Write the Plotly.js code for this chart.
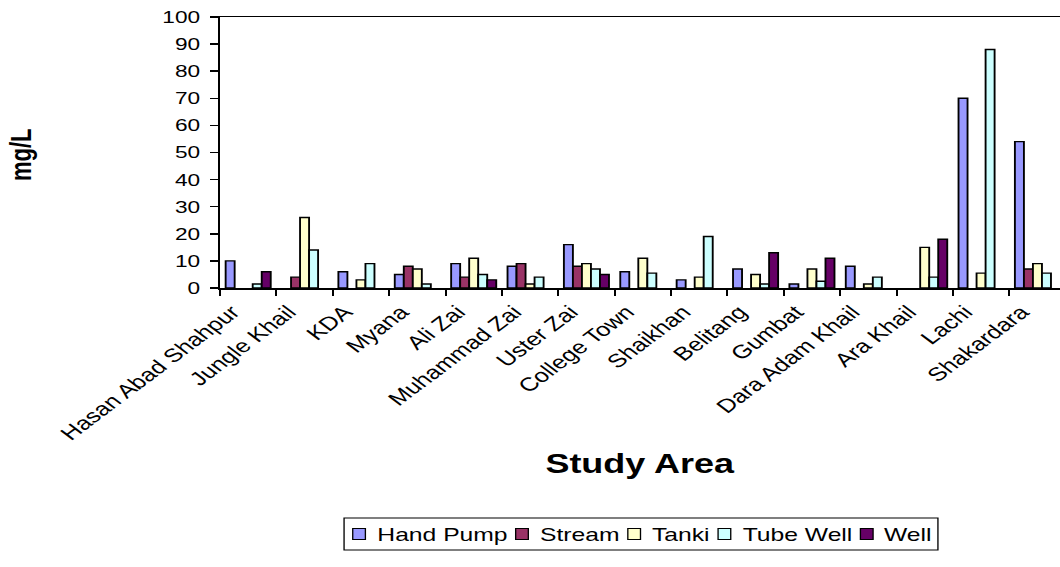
<!DOCTYPE html>
<html>
<head>
<meta charset="utf-8">
<script src="https://cdn.plot.ly/plotly-3.0.1.min.js"></script>
<style>
html,body{margin:0;padding:0;background:#fff;overflow:hidden;}
#wrap{width:1060px;height:567px;overflow:hidden;position:relative;}
#chart{width:795px;height:567px;transform:scaleX(1.333333);transform-origin:0 0;}
</style>
</head>
<body>
<div id="wrap"><div id="chart"></div></div>
<script>
const categories = ["Hasan Abad Shahpur","Jungle Khail","KDA","Myana","Ali Zai","Muhammad Zai","Uster Zai","College Town","Shaikhan","Belitang","Gumbat","Dara Adam Khail","Ara Khail","Lachi","Shakardara"];
const handPump = [10, null, 6, 5, 9, 8, 16, 6, 3, 7, 1.5, 8, null, 70, 54];
const stream   = [null, 4, null, 8, 4, 9, 8, null, null, null, null, null, null, null, 7];
const tanki    = [null, 26, 3, 7, 11, 1.5, 9, 11, 4, 5, 7, 1.5, 15, 5.5, 9];
const tubeWell = [1.5, 14, 9, 1.5, 5, 4, 7, 5.5, 19, 1.5, 2.5, 4, 4, 88, 5.5];
const well     = [6, null, null, null, 3, null, 5, null, null, 13, 11, null, 18, null, null];

const seriesNames = ["Hand Pump","Stream","Tanki","Tube Well","Well"];
const seriesData = [handPump, stream, tanki, tubeWell, well];
const colors = ["#9999FF","#993366","#FFFFCC","#CCFFFF","#660066"];
const yTicks = [0,10,20,30,40,50,60,70,80,90,100];

const font = "Liberation Sans, Arial, sans-serif";
const W = 795, H = 567;
const mL = 165, mT = 17, mB = 279, mR = 0;
const pw = W - mL - mR, ph = H - mT - mB;
const px2x = X => (X - mL) / pw;
const px2y = Y => (H - mB - Y) / ph;

const traces = seriesNames.map((n, i) => ({
  type: "bar", name: n, x: categories, y: seriesData[i],
  marker: {color: colors[i], line: {color: "#000", width: 1.4}},
  hoverinfo: "x+y+name", showlegend: false
}));

// custom legend built from seriesNames / colors
const legFont = 18.5;
const cv = document.createElement("canvas").getContext("2d");
cv.font = legFont + "px 'Liberation Sans'";
const tw = seriesNames.map(n => cv.measureText(n).width);
const pad = 6.5, sym = 9.5, symH = 11, gapST = 6.5, gapItem = 8.5;
const total = pad * 2 + tw.reduce((a, w) => a + sym + gapST + w, 0) + gapItem * (seriesNames.length - 1);
const legCX = 480.75, legTop = 518, legBot = 550, legCY = (legTop + legBot) / 2;
let cx = legCX - total / 2;
const shapes = [{type: "rect", xref: "paper", yref: "paper",
  x0: px2x(cx), x1: px2x(cx + total), y0: px2y(legBot), y1: px2y(legTop),
  line: {color: "#000", width: 1}, fillcolor: "rgba(0,0,0,0)"}];
const annotations = [];
cx += pad;
seriesNames.forEach((n, i) => {
  shapes.push({type: "rect", xref: "paper", yref: "paper",
    x0: px2x(cx), x1: px2x(cx + sym), y0: px2y(legCY + symH / 2), y1: px2y(legCY - symH / 2),
    line: {color: "#000", width: 1}, fillcolor: colors[i]});
  cx += sym + gapST;
  annotations.push({text: n, xref: "paper", yref: "paper", x: px2x(cx), y: px2y(legCY),
    xanchor: "left", yanchor: "middle", showarrow: false, font: {size: legFont, family: font, color: "#000"}});
  cx += tw[i] + gapItem;
});

annotations.push(
  {text: "<b>Study Area</b>", xref: "paper", yref: "paper", x: px2x(480), y: px2y(464),
   xanchor: "center", yanchor: "middle", showarrow: false, font: {size: 27, family: font}},
  {text: "<b>mg/L</b>", xref: "paper", yref: "paper", x: px2x(15), y: px2y(155),
   xanchor: "center", yanchor: "middle", showarrow: false, textangle: -90, font: {size: 22, family: font}}
);

const layout = {
  width: W, height: H,
  margin: {l: mL, r: mR, t: mT, b: mB},
  paper_bgcolor: "#fff", plot_bgcolor: "#fff",
  barmode: "group", bargap: 0.2, bargroupgap: 0,
  font: {family: font, color: "#000"},
  showlegend: false,
  xaxis: {
    type: "category", range: [-0.5, 14.4],
    tickangle: -45, tickfont: {size: 19, family: font},
    ticklabelshift: -12, ticklabelstandoff: 4,
    showline: true, linecolor: "#000", linewidth: 1.5, mirror: true,
    ticks: "outside", ticklen: 6, tickcolor: "#000", tickwidth: 1.5, tickson: "boundaries",
    showgrid: false, zeroline: false, automargin: false
  },
  yaxis: {
    range: [0, 100], tickvals: yTicks, ticktext: yTicks.map(String),
    tickfont: {size: 17, family: font},
    showline: true, linecolor: "#000", linewidth: 1.5,
    ticks: "outside", ticklen: 6, tickcolor: "#000", tickwidth: 1.5, ticklabelstandoff: 4,
    showgrid: false, zeroline: false, automargin: false
  },
  shapes: shapes,
  annotations: annotations
};

Plotly.newPlot("chart", traces, layout, {displayModeBar: false, staticPlot: true});
</script>
</body>
</html>
